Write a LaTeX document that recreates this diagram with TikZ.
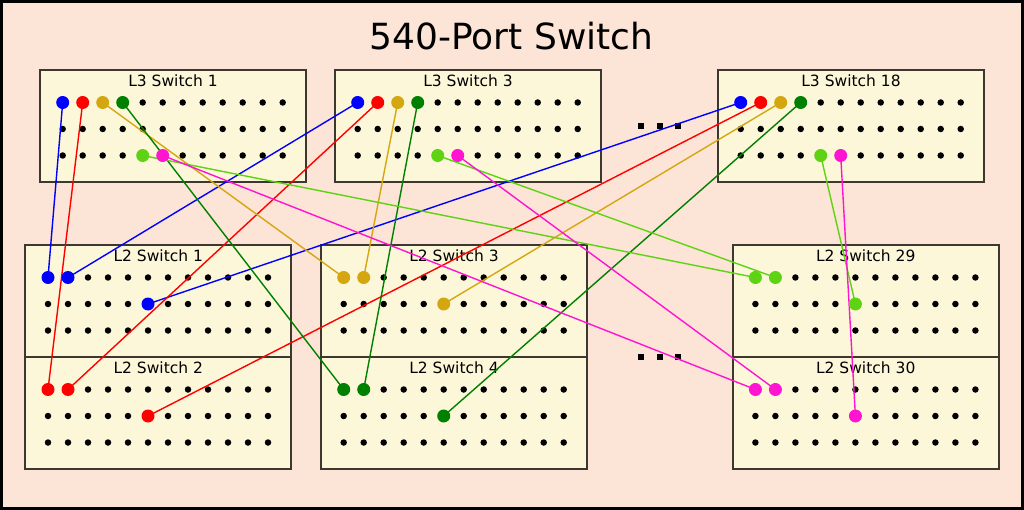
\documentclass[tikz,border=0pt]{standalone}
\usepackage{fontspec}
\setmainfont{DejaVu Sans}

\definecolor{bgpeach}{RGB}{252,228,214}
\definecolor{boxcream}{RGB}{253,247,218}
\definecolor{boxedge}{RGB}{60,56,48}
\definecolor{wgold}{RGB}{212,167,17}
\definecolor{wgreen}{RGB}{0,128,0}
\definecolor{wlime}{RGB}{94,211,20}
\definecolor{wpink}{RGB}{255,20,210}

\tikzset{
  swframe/.style={draw=boxedge, fill=boxcream, line width=2},
  swlabel/.style={anchor=base, font=\fontsize{15.5}{18}\selectfont},
  port/.style={circle, fill=black, inner sep=0, minimum size=6.5},
  uplink/.style={line width=1.4},
  hot/.style={circle, fill=#1, inner sep=0, minimum size=13},
  ellip/.style={fill=black, inner sep=0, minimum size=6.5}
}

\newcommand{\swbox}[4]{%
  \draw[swframe] (#2,#3) rectangle +(266,112);
  \node[swlabel] (#1-lbl) at (#2+133,#3+16.7) {#4};
  \foreach \rw in {0,1,2}
    \foreach \cl in {0,...,11}
      \node[port] (#1-\rw-\cl) at (#2+22.7+20*\cl, #3+32.5+26.5*\rw) {};
}

\begin{document}
\begin{tikzpicture}[x=1pt, y=-1pt]
      \useasboundingbox (0,0) rectangle (1024,510);
      \draw[line width=3, fill=bgpeach] (1.5,1.5) rectangle (1022.5,508.5);

      \node[anchor=base, font=\fontsize{36}{40}\selectfont] (title) at (511.5,49.3) {540-Port Switch};

      \swbox{core1}{40}{70}{L3 Switch 1}
      \swbox{core3}{335}{70}{L3 Switch 3}
      \swbox{core18}{718}{70}{L3 Switch 18}

      \swbox{edge1}{25.3}{245}{L2 Switch 1}
      \swbox{edge2}{25.3}{357}{L2 Switch 2}
      \swbox{edge3}{321}{245}{L2 Switch 3}
      \swbox{edge4}{321}{357}{L2 Switch 4}
      \swbox{edge29}{732.7}{245}{L2 Switch 29}
      \swbox{edge30}{732.7}{357}{L2 Switch 30}

      \foreach \x in {641,660,678} {
        \node[ellip] (gapt\x) at (\x,126) {};
        \node[ellip] (gapb\x) at (\x,357) {};
      }

      \draw[uplink, blue] (core1-0-0.center) -- (edge1-0-0.center);
      \draw[uplink, blue] (core3-0-0.center) -- (edge1-0-1.center);
      \draw[uplink, blue] (core18-0-0.center) -- (edge1-1-5.center);

      \draw[uplink, red] (core1-0-1.center) -- (edge2-0-0.center);
      \draw[uplink, red] (core3-0-1.center) -- (edge2-0-1.center);
      \draw[uplink, red] (core18-0-1.center) -- (edge2-1-5.center);

      \draw[uplink, wgold] (core1-0-2.center) -- (edge3-0-0.center);
      \draw[uplink, wgold] (core3-0-2.center) -- (edge3-0-1.center);
      \draw[uplink, wgold] (core18-0-2.center) -- (edge3-1-5.center);

      \draw[uplink, wgreen] (core1-0-3.center) -- (edge4-0-0.center);
      \draw[uplink, wgreen] (core3-0-3.center) -- (edge4-0-1.center);
      \draw[uplink, wgreen] (core18-0-3.center) -- (edge4-1-5.center);

      \draw[uplink, wlime] (core1-2-4.center) -- (edge29-0-0.center);
      \draw[uplink, wlime] (core3-2-4.center) -- (edge29-0-1.center);
      \draw[uplink, wlime] (core18-2-4.center) -- (edge29-1-5.center);

      \draw[uplink, wpink] (core1-2-5.center) -- (edge30-0-0.center);
      \draw[uplink, wpink] (core3-2-5.center) -- (edge30-0-1.center);
      \draw[uplink, wpink] (core18-2-5.center) -- (edge30-1-5.center);

      \foreach \clr/\src/\dst in {blue/0-0/edge1, red/0-1/edge2, wgold/0-2/edge3,
                                  wgreen/0-3/edge4, wlime/2-4/edge29, wpink/2-5/edge30} {
        \node[hot=\clr] at (core1-\src) {};
        \node[hot=\clr] at (core3-\src) {};
        \node[hot=\clr] at (core18-\src) {};
        \node[hot=\clr] at (\dst-0-0) {};
        \node[hot=\clr] at (\dst-0-1) {};
        \node[hot=\clr] at (\dst-1-5) {};
      }

    \end{tikzpicture}
\end{document}
